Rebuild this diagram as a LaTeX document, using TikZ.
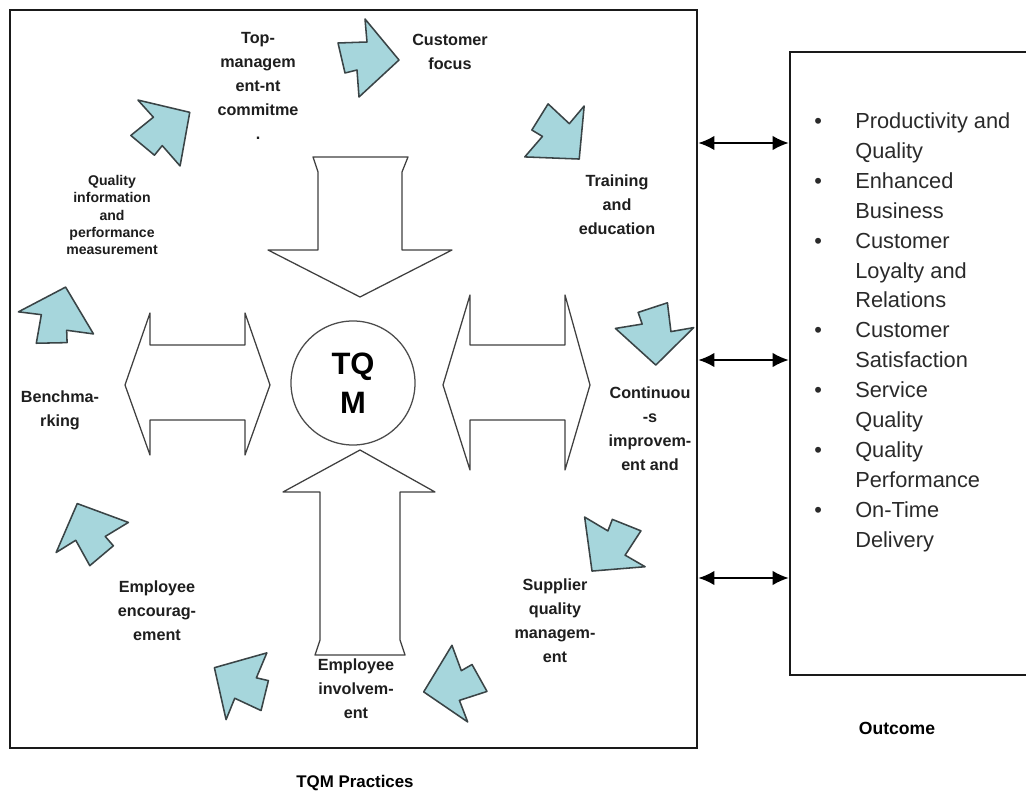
\documentclass[tikz,border=0pt]{standalone}
\usepackage{fontspec}
\setmainfont{Liberation Sans}
\usepackage{xcolor}
\definecolor{FlowTeal}{HTML}{A6D6DC}
\definecolor{FlowEdge}{HTML}{3A4446}
\definecolor{LabelText}{HTML}{1E1E1E}
\definecolor{ListText}{HTML}{2A2A2A}
\definecolor{FrameGray}{HTML}{1A1A1A}
\usetikzlibrary{arrows.meta, positioning}

% Kleiner Blockpfeil (zeigt nach rechts, wird gedreht)
\tikzset{
  flowarrow/.pic={
    \draw[fill=FlowTeal, draw=FlowEdge, line width=1.1pt, line join=round]
      (32,-2) -- (-2,39) -- (0,16) -- (-29,15) -- (-22,-15) -- (-10,-12) -- (-8,-39) -- cycle;
  }
}

\begin{document}
\begin{tikzpicture}[
  x=0.025cm, y=0.025cm,
  % Rahmen der beiden Bereiche
  framebox/.style={
    draw=FrameGray,
    line width=1.8pt,
    inner sep=0pt
  },
  % Beschriftung der Praktiken
  lbl/.style={
    font=\bfseries\fontsize{11.5}{17}\selectfont,
    text=LabelText,
    align=center,
    inner sep=0pt
  },
  % kleinere Beschriftung
  smalllbl/.style={
    font=\bfseries\fontsize{10}{12.2}\selectfont,
    text=LabelText,
    align=center,
    inner sep=0pt
  },
  % hohle Doppelpfeile um TQM
  hollow/.style={
    draw=black!75,
    line width=0.9pt,
    fill=white,
    line join=round
  },
  % Verbindung Praktiken <-> Ergebnis
  link/.style={
    {Latex[length=4mm,width=3.6mm]}-{Latex[length=4mm,width=3.6mm]},
    line width=1.2pt
  }
]

% =============================================================================
% HINTERGRUND
% =============================================================================
\useasboundingbox (0,0) rectangle (1026,796);
\fill[white] (0,0) rectangle (1026,796);

% =============================================================================
% RAHMEN
% =============================================================================
\node[framebox, minimum width=17.175cm, minimum height=18.45cm] (practices) at (353.5,417) {};
\node[framebox, minimum width=6.05cm, minimum height=15.575cm] (outcome) at (911,432.5) {};

% Verbindungen
\draw[link] (practices.east |- 0,653) -- (outcome.west |- 0,653);
\draw[link] (practices.east |- 0,436) -- (outcome.west |- 0,436);
\draw[link] (practices.east |- 0,218) -- (outcome.west |- 0,218);

% =============================================================================
% TQM IN DER MITTE
% =============================================================================
% oben
\draw[hollow] (313,639) -- (408,639) -- (402,624) -- (402,546) -- (452,546) -- (360,499)
  -- (268,546) -- (318,546) -- (318,624) -- cycle;
% unten
\draw[hollow] (315,141) -- (405,141) -- (400,156) -- (400,304) -- (435,304) -- (360,346)
  -- (283,304) -- (320,304) -- (320,156) -- cycle;
% links
\draw[hollow] (125,411) -- (150,483) -- (150,451) -- (245,451) -- (245,483) -- (270,411)
  -- (245,341) -- (245,376) -- (150,376) -- (150,341) -- cycle;
% rechts
\draw[hollow] (443,411) -- (470,501) -- (470,451) -- (565,451) -- (565,501) -- (590,411)
  -- (565,326) -- (565,376) -- (470,376) -- (470,326) -- cycle;

\node[circle, draw=black!70, line width=0.9pt, minimum size=3.1cm, inner sep=0pt,
  font=\bfseries\fontsize{22}{28}\selectfont, align=center] (tqm) at (353,413) {TQ\\M};

% =============================================================================
% KREISLAUF (im Uhrzeigersinn)
% =============================================================================
\pic[rotate=0] at (367,738) {flowarrow};
\pic[rotate=-45] at (558,661) {flowarrow};
\pic[rotate=275] at (655,463) {flowarrow};
\pic[rotate=235] at (612,250) {flowarrow};
\pic[rotate=196] at (455,111) {flowarrow};
\pic[rotate=153] at (242,112) {flowarrow};
\pic[rotate=117] at (90,263) {flowarrow};
\pic[rotate=78] at (57,478) {flowarrow};
\pic[rotate=37] at (163,666) {flowarrow};

% =============================================================================
% PRAKTIKEN
% =============================================================================
\node[lbl] (topmgmt) at (258,710) {Top-\\managem\\ent-nt\\commitme\\.};
\node[lbl] (custfocus) at (450,744) {Customer\\focus};
\node[lbl] (training) at (617,591) {Training\\and\\education};
\node[lbl] (contimp) at (650,367) {Continuou\\-s\\improvem-\\ent and};
\node[lbl] (supplier) at (555,175) {Supplier\\quality\\managem-\\ent};
\node[lbl] (involve) at (356,107) {Employee\\involvem-\\ent};
\node[lbl] (encour) at (157,185) {Employee\\encourag-\\ement};
\node[lbl] (bench) at (60,386) {Benchma-\\rking};
\node[smalllbl] (qualinfo) at (112,581) {Quality\\information\\and\\performance\\measurement};

\node[font=\bfseries\fontsize{12}{14}\selectfont] (practlbl) at (355,13) {TQM Practices};

% =============================================================================
% ERGEBNIS
% =============================================================================
\node[anchor=north west, inner sep=0pt, text=ListText,
  font=\fontsize{15.5}{21.3}\selectfont] (outlist) at (814,689) {%
  \begin{tabular}{@{}p{1.025cm}@{}l@{}}
    \textbullet & Productivity and\\
                & Quality\\
    \textbullet & Enhanced\\
                & Business\\
    \textbullet & Customer\\
                & Loyalty and\\
                & Relations\\
    \textbullet & Customer\\
                & Satisfaction\\
    \textbullet & Service\\
                & Quality\\
    \textbullet & Quality\\
                & Performance\\
    \textbullet & On-Time\\
                & Delivery
  \end{tabular}};

\node[font=\bfseries\fontsize{12.5}{14}\selectfont] (outlbl) at (897,68) {Outcome};

\end{tikzpicture}
\end{document}
